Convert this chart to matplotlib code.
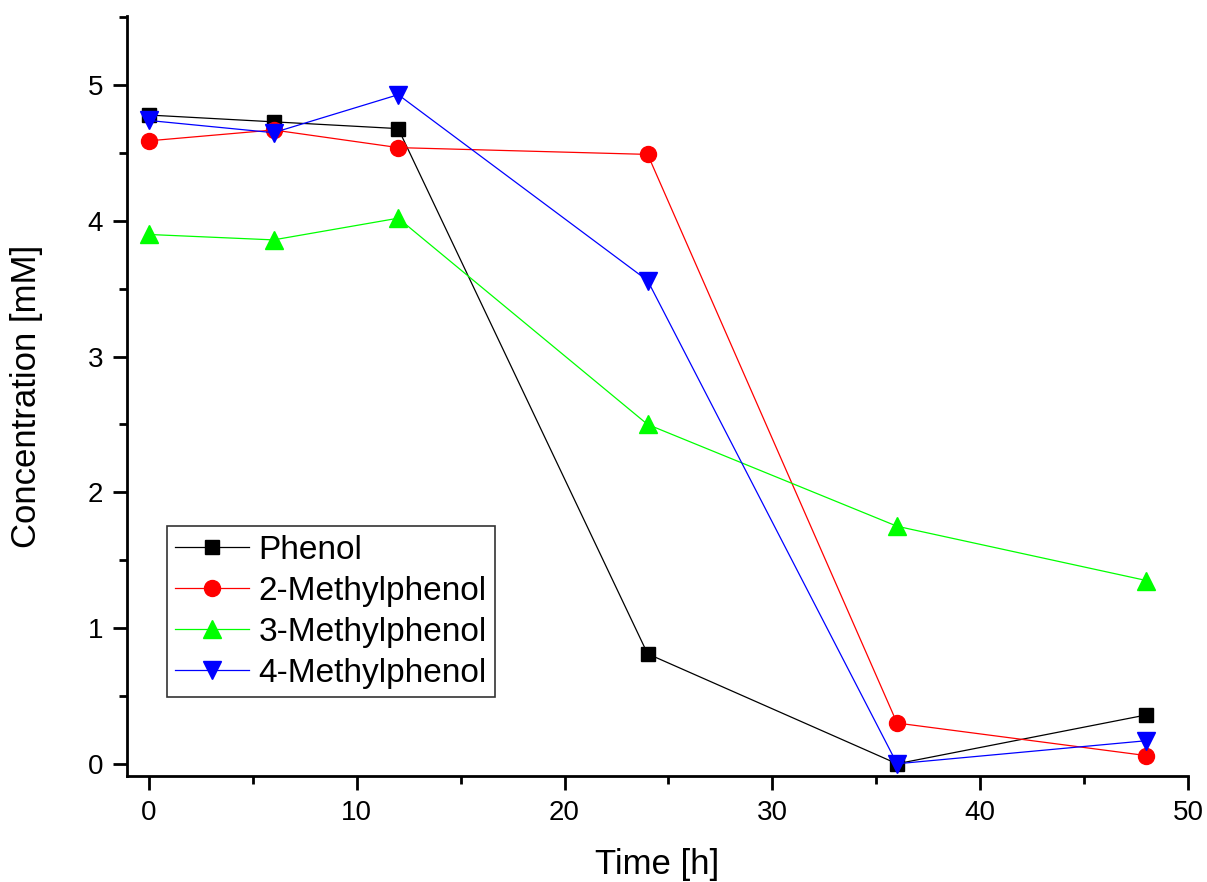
import matplotlib

matplotlib.use("Agg")
import matplotlib.pyplot as plt
from matplotlib.ticker import MultipleLocator

plt.rcParams["font.family"] = ["Liberation Sans", "DejaVu Sans"]

# Data
time_h = [0, 6, 12, 24, 36, 48]
phenol = [4.78, 4.73, 4.68, 0.81, 0.0, 0.36]
methyl2 = [4.59, 4.67, 4.54, 4.49, 0.30, 0.06]
methyl3 = [3.90, 3.86, 4.02, 2.50, 1.75, 1.35]
methyl4 = [4.74, 4.65, 4.93, 3.56, 0.0, 0.17]

series = [
    ("Phenol", phenol, "#000000", "s", 10),
    ("2-Methylphenol", methyl2, "#FF0000", "o", 11.5),
    ("3-Methylphenol", methyl3, "#00FF00", "^", 12.5),
    ("4-Methylphenol", methyl4, "#0000FF", "v", 12.5),
]

fig = plt.figure(figsize=(12.07, 8.82), dpi=100)
ax = fig.add_axes([0.1052, 0.1202, 0.8791, 0.8617])

for label, values, color, marker, ms in series:
    ax.plot(time_h, values, color=color, marker=marker, markersize=ms,
            linewidth=0.9, label=label)

ax.set_xlim(-1.05, 50)
ax.set_ylim(-0.09, 5.51)
ax.xaxis.set_major_locator(MultipleLocator(10))
ax.xaxis.set_minor_locator(MultipleLocator(5))
ax.yaxis.set_major_locator(MultipleLocator(1))
ax.yaxis.set_minor_locator(MultipleLocator(0.5))

for side in ("top", "right"):
    ax.spines[side].set_visible(False)
for side in ("left", "bottom"):
    ax.spines[side].set_linewidth(2)

ax.tick_params(which="major", direction="out", length=10, width=2,
               labelsize=20, pad=7)
ax.tick_params(which="minor", direction="out", length=6, width=2)

ax.set_xlabel("Time [h]", fontsize=25, labelpad=16)
ax.set_ylabel("Concentration [mM]", fontsize=25, labelpad=32)

leg = ax.legend(loc="lower left", bbox_to_anchor=(0.0377, 0.104),
                fontsize=24, frameon=True, fancybox=False, edgecolor="black",
                handlelength=2.2, handletextpad=0.3, borderpad=0.25,
                labelspacing=0.3, borderaxespad=0)
leg.get_frame().set_linewidth(1.2)

fig.savefig("out.png", dpi=100)
